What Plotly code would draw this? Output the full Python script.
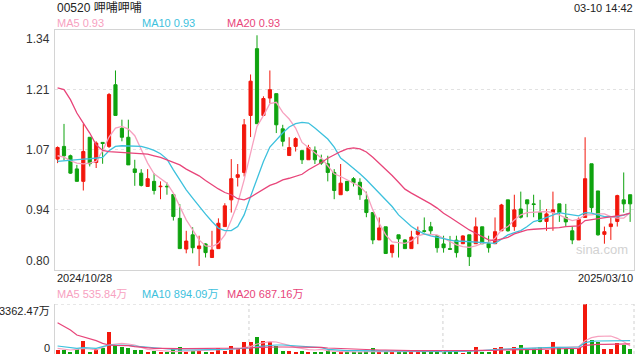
import plotly.graph_objects as go

# ---------------- data ----------------
idx = list(range(90))
date_first = "2024/10/28"
date_last = "2025/03/10"

opens = [1.049,1.0775,1.0565,1.027,0.999,1.098,1.0415,1.0865,1.0775,1.216,
         1.118,1.098,1.027,1.0175,0.9875,0.999,0.987,0.988,0.9695,0.916,
         0.847,0.879,0.848,0.8585,0.828,0.848,0.8975,0.9575,1.008,1.019,
         1.147,1.297,1.147,1.186,1.196,1.117,1.057,1.0775,1.068,1.0475,
         1.068,1.0475,1.0385,1.019,0.969,0.999,1.005,0.997,0.9575,0.929,
         0.8675,0.897,0.839,0.879,0.8675,0.848,0.880,0.888,0.897,0.877,
         0.8585,0.848,0.867,0.859,0.879,0.859,0.897,0.859,0.859,0.888,
         0.9575,0.8975,0.937,0.9575,0.9485,0.929,0.909,0.929,0.9485,0.918,
         0.888,0.8675,0.918,1.0385,0.9775,0.880,0.8975,0.909,0.9575,0.969]
highs = [1.0775,1.128,1.059,1.036,1.128,1.098,1.089,1.0865,1.1975,1.248,
         1.1375,1.1375,1.0475,1.0265,1.0265,1.0175,0.999,0.9965,0.9695,0.948,
         0.888,0.896,0.877,0.86,0.888,0.916,0.95,1.049,1.038,1.139,
         1.239,1.327,1.19,1.248,1.196,1.126,1.098,1.098,1.068,1.081,
         1.0775,1.059,1.0565,1.0265,1.038,1.0,1.0085,1.006,0.976,0.929,
         0.918,0.897,0.856,0.879,0.869,0.888,0.8975,0.918,0.908,0.877,
         0.877,0.8765,0.877,0.878,0.879,0.918,0.897,0.877,0.918,0.9485,
         0.9575,0.969,0.976,0.9575,0.969,0.9575,0.937,0.976,0.9485,0.9485,
         0.8975,0.918,1.098,1.0385,0.9775,0.8975,0.918,0.969,1.019,0.969]
lows = [1.04,1.046,1.016,0.999,0.9785,1.0325,1.029,1.0385,1.074,1.147,
        1.089,1.036,0.989,0.9875,0.9875,0.9695,0.959,0.969,0.911,0.848,
        0.8375,0.8375,0.809,0.828,0.828,0.848,0.8975,0.929,0.9875,1.01,
        1.0985,1.1285,1.147,1.175,1.1075,1.0775,1.057,1.066,1.038,1.0475,
        1.038,1.036,0.999,0.959,0.969,0.976,0.9875,0.9575,0.9185,0.858,
        0.8675,0.837,0.828,0.828,0.848,0.848,0.858,0.884,0.879,0.839,
        0.839,0.845,0.828,0.859,0.809,0.859,0.858,0.839,0.859,0.888,
        0.886,0.888,0.9155,0.9185,0.9185,0.907,0.888,0.888,0.908,0.8975,
        0.858,0.8675,0.918,0.929,0.877,0.859,0.8675,0.8975,0.929,0.908]
closes = [1.075,1.0565,1.0175,0.999,1.066,1.0385,1.085,1.084,1.194,1.147,
          1.098,1.036,1.019,0.99,1.005,0.9785,0.988,0.987,0.92,0.848,
          0.865,0.850,0.854,0.839,0.845,0.905,0.944,1.005,1.014,1.126,
          1.224,1.1285,1.185,1.205,1.126,1.089,1.075,1.095,1.0475,1.075,
          1.0475,1.04,1.019,0.9785,0.995,0.9785,0.996,0.969,0.929,0.8675,
          0.8945,0.837,0.856,0.870,0.848,0.874,0.888,0.887,0.888,0.850,
          0.850,0.8465,0.839,0.8765,0.830,0.897,0.859,0.850,0.886,0.946,
          0.888,0.935,0.9185,0.9485,0.947,0.909,0.926,0.935,0.929,0.908,
          0.8675,0.914,1.005,0.940,0.879,0.886,0.9035,0.967,0.9485,0.9485]

ma5 = [1.0565,1.0535,1.0453,1.04,1.0385,1.04,1.0438,1.0678,1.0985,1.1188,
       1.1225,1.1165,1.1015,1.07,1.04,1.016,1.0063,0.995,0.9725,0.9425,
       0.9125,0.89,0.8675,0.854,0.8525,0.86,0.8788,0.9125,0.95,1.0025,
       1.0625,1.1225,1.1465,1.1735,1.1765,1.154,1.139,1.1188,1.0865,1.0753,
       1.064,1.0513,1.034,1.016,1.01,1.0025,0.9965,0.9875,0.9725,0.935,
       0.905,0.8788,0.863,0.8615,0.86,0.8653,0.8765,0.8803,0.8803,0.8788,
       0.8713,0.8638,0.8563,0.8525,0.851,0.854,0.86,0.8623,0.8713,0.89,
       0.8975,0.9125,0.9238,0.929,0.9298,0.9305,0.9313,0.929,0.9238,0.9163,
       0.911,0.914,0.9238,0.9238,0.926,0.926,0.92,0.9163,0.9163,0.929]
ma10 = [1.0438,1.0453,1.0475,1.049,1.049,1.0498,1.0513,1.0528,1.0678,1.0775,
        1.079,1.079,1.079,1.0775,1.0738,1.0685,1.061,1.049,1.025,1.0025,
        0.98,0.9613,0.9425,0.9253,0.9088,0.8938,0.8885,0.8885,0.8975,0.9238,
        0.965,1.0063,1.0438,1.076,1.0925,1.1075,1.121,1.1285,1.1315,1.13,
        1.1188,1.1053,1.094,1.076,1.0513,1.04,1.0288,1.016,1.0025,0.9875,
        0.9725,0.9575,0.9425,0.9238,0.9103,0.8975,0.8885,0.881,0.8765,0.8735,
        0.869,0.866,0.8645,0.8645,0.8638,0.863,0.8615,0.86,0.86,0.869,
        0.8788,0.884,0.8885,0.8975,0.9088,0.9125,0.9185,0.9238,0.929,0.926,
        0.923,0.9215,0.929,0.9275,0.9238,0.92,0.92,0.92,0.923,0.9275]
ma20 = [1.209,1.205,1.1825,1.1525,1.13,1.1075,1.081,1.0685,1.066,1.065,
        1.064,1.063,1.0625,1.0625,1.060,1.0565,1.053,1.0475,1.042,1.036,
        1.0265,1.019,1.0115,1.001,0.991,0.982,0.974,0.969,0.960,0.9575,
        0.9635,0.9725,0.98,0.990,0.995,1.0025,1.006,1.01,1.015,1.025,
        1.0325,1.0415,1.051,1.059,1.066,1.072,1.074,1.072,1.065,1.053,
        1.04,1.0265,1.012,0.997,0.9815,0.9725,0.965,0.9575,0.9485,0.939,
        0.9275,0.9185,0.909,0.899,0.89,0.8825,0.875,0.8675,0.866,0.870,
        0.8735,0.881,0.886,0.89,0.8915,0.892,0.893,0.8945,0.895,0.8975,
        0.898,0.899,0.911,0.913,0.915,0.917,0.919,0.9215,0.924,0.9275]
price_ma_labels = ["0.93", "0.93", "0.93"]

volume = [269,269,90,314,874,157,314,381,1502,605,
          493,426,269,269,157,224,157,157,314,493,
          157,224,224,157,157,381,202,538,314,830,
          830,1121,874,830,538,224,202,157,202,157,
          157,90,269,157,157,90,90,90,202,381,
          157,202,90,202,90,202,90,157,90,157,
          157,112,157,45,202,493,90,157,426,493,
          224,493,605,314,381,493,269,830,448,314,
          314,426,3362.47,942,830,336,336,717,605,336]
vol_ma5 = [381,314,269,314,381,336,269,448,605,673,
           717,673,605,448,314,269,224,179,157,179,
           202,224,224,247,269,269,291,314,336,426,
           493,673,762,830,807,717,583,448,359,291,
           269,314,224,179,157,157,135,135,157,179,
           179,157,157,157,157,157,157,135,135,135,
           135,135,135,135,179,247,269,291,336,359,
           359,381,381,381,404,426,448,448,448,448,
           448,493,897,1099,1188,1211,1211,1054,830,538]
vol_ma10 = [538,493,448,381,426,404,381,493,605,605,
            605,583,538,493,448,404,359,314,291,269,
            269,269,291,314,314,314,314,336,359,381,
            404,493,538,605,605,605,583,561,516,471,
            448,426,314,269,247,224,224,224,202,202,
            202,202,202,202,202,202,202,202,179,179,
            157,157,157,179,179,202,224,269,291,314,
            336,359,381,404,426,448,448,448,448,448,
            448,471,762,852,874,874,897,897,897,897]
vol_ma20 = [2107,1883,1614,1278,1166,1054,897,717,605,583,
            583,561,493,448,381,381,381,359,359,359,
            359,359,359,359,359,359,359,381,381,404,
            426,448,448,471,471,471,471,471,471,448,
            448,448,404,381,359,336,336,314,314,291,
            269,269,247,247,224,224,224,224,202,202,
            202,202,202,202,202,224,224,247,247,269,
            269,291,291,314,314,314,336,336,336,359,
            359,381,583,628,650,650,672,672,687,687]
vol_ma_labels = ["535.84万", "894.09万", "687.16万"]

ytick_vals = [1.34, 1.205, 1.07, 0.935, 0.80]
ytick_text = ["1.34", "1.21", "1.07", "0.94", "0.80"]
vol_max = 3362.47
vol_top_text = "3362.47万"

RED = "#f2170c"
GREEN = "#0fa30f"
C_MA5 = "#f7a1bf"
C_MA10 = "#3dc1dd"
C_MA20 = "#e8457a"
FONT = "Liberation Sans, Arial, Noto Sans CJK SC, sans-serif"

W, H = 640, 360
def px(x): return x / W
def py(y): return 1 - y / H

fig = go.Figure()

fig.add_trace(go.Candlestick(
    x=idx, open=opens, high=highs, low=lows, close=closes,
    increasing=dict(line=dict(color=RED, width=1), fillcolor=RED),
    decreasing=dict(line=dict(color=GREEN, width=1), fillcolor=GREEN),
    whiskerwidth=0, xaxis="x", yaxis="y", hoverinfo="skip"))

for arr, col in [(ma5, C_MA5), (ma10, C_MA10), (ma20, C_MA20)]:
    fig.add_trace(go.Scatter(x=idx, y=arr, mode="lines",
                             line=dict(color=col, width=1.3),
                             xaxis="x", yaxis="y", hoverinfo="skip"))

vcolors = [RED if c >= o else GREEN for o, c in zip(opens, closes)]
fig.add_trace(go.Bar(x=idx, y=volume, marker=dict(color=vcolors, line=dict(width=0)),
                     width=0.62, xaxis="x2", yaxis="y2", hoverinfo="skip"))
for arr, col in [(vol_ma5, C_MA5), (vol_ma10, C_MA10), (vol_ma20, C_MA20)]:
    fig.add_trace(go.Scatter(x=idx, y=arr, mode="lines",
                             line=dict(color=col, width=1.2),
                             xaxis="x2", yaxis="y2", hoverinfo="skip"))

XR = [-0.4, 89.6]
XD = [px(55), px(634)]
fig.update_layout(
    width=W, height=H, margin=dict(l=0, r=0, t=0, b=0),
    paper_bgcolor="white", plot_bgcolor="white", showlegend=False,
    font=dict(family=FONT, size=11, color="#333"),
    xaxis=dict(domain=XD, range=XR, showgrid=False, zeroline=False,
               showticklabels=False, showline=True, mirror=True,
               linecolor="#d4d4d4", linewidth=1, rangeslider=dict(visible=False),
               fixedrange=True),
    yaxis=dict(domain=[py(270), py(29.5)], range=[0.80, 1.34],
               tickvals=ytick_vals[1:4], showticklabels=False,
               showgrid=True, gridcolor="#e2e2e2", griddash="dot", gridwidth=1,
               zeroline=False, showline=True, mirror=True,
               linecolor="#d4d4d4", linewidth=1, fixedrange=True),
    xaxis2=dict(domain=XD, range=XR, showgrid=False, zeroline=False,
                showticklabels=False, showline=False, anchor="y2", fixedrange=True),
    yaxis2=dict(domain=[py(354), py(304)], range=[0, vol_max], anchor="x2",
                showgrid=False, zeroline=False, showticklabels=False,
                showline=True, linecolor="#d4d4d4", linewidth=1, fixedrange=True),
    bargap=0,
)

# dotted borders / grid on the volume pane
fig.add_shape(type="line", xref="paper", yref="y2", x0=px(55), x1=px(634),
              y0=vol_max, y1=vol_max, line=dict(color="#d0d0d0", width=1, dash="dot"))
fig.add_shape(type="line", xref="paper", yref="y2", x0=px(634), x1=px(634),
              y0=0, y1=vol_max, line=dict(color="#d0d0d0", width=1, dash="dot"))
for gx in [29.75, 59.9]:
    fig.add_shape(type="line", xref="x2", yref="y2", x0=gx, x1=gx,
                  y0=0, y1=vol_max, line=dict(color="#d0d0d0", width=1, dash="dot"))

ann = []
def text(x, y, s, color="#333", size=11, anchor="left"):
    ann.append(dict(x=px(x), y=py(y), xref="paper", yref="paper", text=s,
                    showarrow=False, xanchor=anchor, yanchor="middle",
                    font=dict(family=FONT, size=size, color=color)))

text(55, 8, "00520 呷哺呷哺", "#222", 12)
text(635, 8, "03-10 14:42", "#222", 11, "right")
for xpos, name, lab, col in zip([55, 140, 225], ["MA5", "MA10", "MA20"],
                                price_ma_labels, [C_MA5, C_MA10, C_MA20]):
    text(xpos, 23, f"{name} {lab}", col)

for v, t in zip(ytick_vals, ytick_text):
    ya = "middle"
    if v == ytick_vals[0]:
        ya = "top"
    elif v == ytick_vals[-1]:
        ya = "bottom"
    ann.append(dict(x=px(52), y=v, xref="paper", yref="y", text=t, showarrow=False,
                    xanchor="right", yanchor=ya,
                    font=dict(family=FONT, size=12, color="#333")))

text(55, 278, date_first, "#222", 11)
text(635, 278, date_last, "#222", 11, "right")
for xpos, name, lab, col in zip([55, 140, 225], ["MA5", "MA10", "MA20"],
                                vol_ma_labels, [C_MA5, C_MA10, C_MA20]):
    text(xpos, 294, f"{name} {lab}", col)
text(52, 311, vol_top_text, "#222", 11, "right")
text(52, 348, "0", "#222", 11, "right")
text(602, 249, "sina.com", "#d2d2d2", 13, "center")

fig.update_layout(annotations=ann)
fig.write_html("out.html")
